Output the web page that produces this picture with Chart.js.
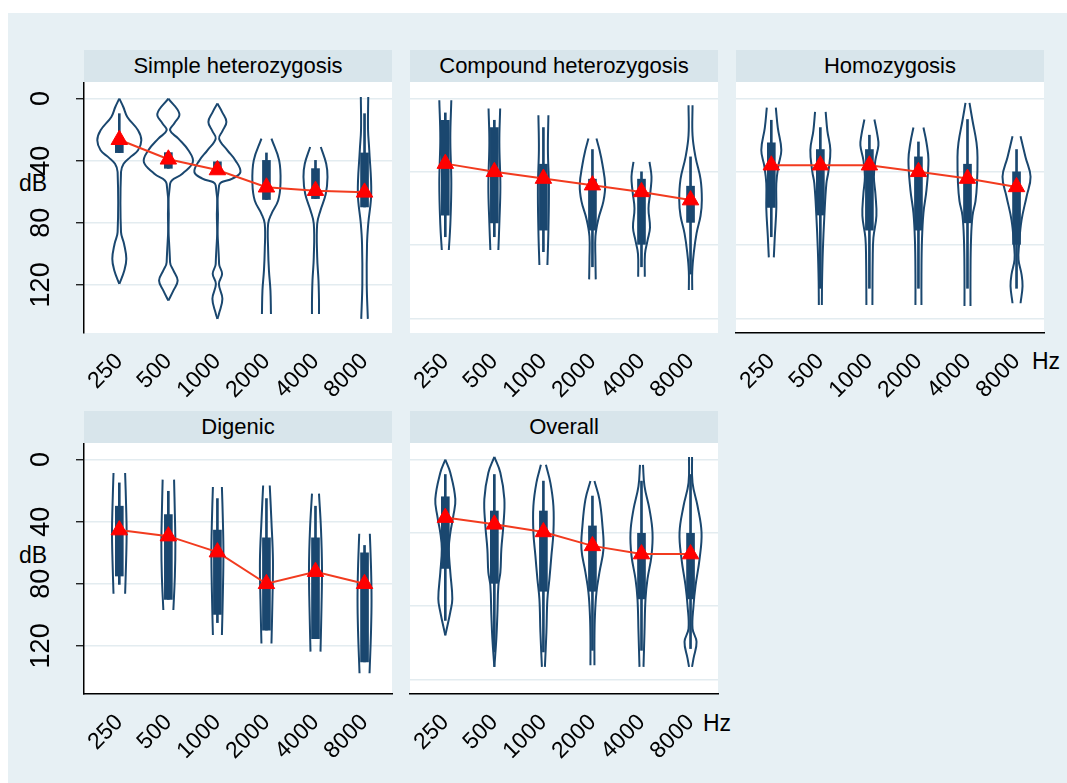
<!DOCTYPE html>
<html>
<head>
<meta charset="utf-8">
<script src="https://cdn.jsdelivr.net/npm/chart.js@4.4.1/dist/chart.umd.min.js"></script>
<style>
  body { margin: 0; width: 1067px; height: 783px; background: #fff; position: relative; overflow: hidden; font-family: "Liberation Sans", Arial, sans-serif; }
  #fondo { position: absolute; left: 8px; top: 13px; right: 0; bottom: 0; background: #e7f0f4; }
  .strip { position: absolute; height: 32px; line-height: 32px; background: #d8e5eb; text-align: center; font-size: 22px; color: #000; }
  .axis-title { position: absolute; font-size: 23px; color: #000; line-height: 23px; }
  canvas { position: absolute; }
</style>
</head>
<body>
<div id="fondo"></div>
<div class="axis-title" style="left:19px; top:172px;">dB</div>
<div class="axis-title" style="left:19px; top:544px;">dB</div>
<div class="axis-title" style="left:1032px; top:350px;">Hz</div>
<div class="axis-title" style="left:703px; top:712px;">Hz</div>

<script>
// Frecuencias (eje x)
const freqs = ['250', '500', '1000', '2000', '4000', '8000'];
const ticks40 = [0, 40, 80, 120];
const ticks50 = [0, 50, 100, 150];

// Simple heterozygosis (dB)
const simpleMean = [26.5, 39.1, 46, 57.1, 59.3, 60.4];
const simpleBox = [[28, 34.8], [34.8, 44.9], [40.7, 48], [39.8, 65], [45.1, 64.4], [35, 69.8]];
const simpleWhisker = [[9.7, 34.8], [34.8, 44.9], [40.7, 48], [35, 65], [39.8, 64.4], [9.7, 69.8]];
const simpleViolin = [
  [[0, 0], [5.4, 4], [11.8, 8], [20.4, 18.7], [26.9, 22], [33.3, 18.7], [37.7, 11], [42, 4.3], [47.3, 1.7], [86, 1.7], [93.5, 4.7], [103.2, 7], [110.7, 5], [119.4, 0]],
  [[0, 0], [9.7, 11], [15.9, 6], [20.4, 1.7], [25.8, 10], [33.3, 20], [40.9, 24.5], [48.4, 14], [54.9, 1.7], [105.4, 1.7], [110.7, 5], [117.2, 9.3], [123.7, 5], [130.1, 0]],
  [[3.2, 0], [9, 5], [15, 9], [21, 5], [25.8, 1.7], [33.3, 10], [39.8, 18], [47.3, 23], [51.6, 15], [55.9, 1.7], [106.5, 1.7], [112.9, 4.7], [119.4, 1.5], [129, 5], [138.7, 1.5], [141.9, 0]],
  [[25.8, 5], [39.8, 12.7], [54.9, 14], [65.6, 11.7], [74.2, 5], [80.6, 1.7], [97.8, 1.7], [110.7, 2.5], [123.7, 4], [138.7, 4.5]],
  [[31.2, 5.3], [42, 10.7], [50.5, 12], [61.3, 10.3], [72, 5], [80.6, 1.7], [102.1, 1.7], [117.2, 3], [130, 3.5], [138.7, 3.5]],
  [[-1, 3.7], [20, 3.5], [33, 4.7], [61, 6.7], [80.6, 3.7], [93.5, 2.5], [119.4, 2.2], [141.9, 3.3]]
];

// Compound heterozygosis (dB)
const compoundMean = [44.4, 50, 54.6, 59.1, 63.7, 69.3];
const compoundBox = [[14.8, 79.5], [19.8, 84.8], [44.8, 89.8], [55, 89.8], [55, 99.5], [59.8, 84.5]];
const compoundWhisker = [[9.8, 94.3], [14.8, 94.3], [19.8, 104.5], [34.8, 114.8], [50, 114.8], [39.8, 119.8]];
const compoundViolin = [
  [[1.2, 6], [27, 5], [58, 6], [86, 5], [103.4, 3.5]],
  [[6.8, 5.8], [30, 5], [60, 6], [85, 5], [103.4, 4]],
  [[11.4, 5], [35, 4.5], [60, 5.5], [90, 5], [113.6, 4]],
  [[27.3, 4], [35, 7], [45, 10], [59, 12.7], [70, 11], [82, 6], [94, 3], [110, 3], [123.4, 3.3]],
  [[43.2, 8], [53.4, 10], [63, 9], [75, 7], [88, 8.5], [97, 6], [106, 3.5], [121.6, 3.3]],
  [[4.6, 2], [25, 2], [40, 5], [55, 10], [69.3, 11.3], [80, 10], [92, 6], [105, 3.3], [118, 1.7], [130.7, 1.7]]
];

// Homozygosis (dB)
const homoMean = [45.5, 45.5, 45.5, 50, 54.6, 60.3];
const homoBox = [[30.2, 74.3], [34.8, 79.5], [34.8, 89.8], [39.8, 89.8], [44.8, 84.8], [50, 99.5]];
const homoWhisker = [[14.8, 94.3], [19.8, 129.5], [25, 129.5], [29.6, 129.5], [14.3, 129.5], [34.8, 129.5]];
const homoViolin = [
  [[6.2, 4.5], [20, 6.5], [35.2, 10], [46, 7], [58, 5], [75, 5], [94, 3.5], [108.4, 2.5]],
  [[9.1, 5.3], [22, 7], [35.2, 10], [50, 8], [58, 6], [80, 4], [103.4, 2.5], [125, 1.7], [140.9, 1.5]],
  [[14.3, 5], [25, 8], [32, 9], [42, 6], [53.4, 4.5], [65, 6], [80, 7], [95, 4], [110, 3.3], [140.9, 3]],
  [[19.8, 5], [30, 8], [42, 10], [62.5, 8], [78, 5], [97, 3.5], [120, 3], [140.9, 3]],
  [[3, 2], [15, 5], [30, 9], [40, 10], [58, 9.5], [70, 8], [80, 5], [97, 3.5], [120, 3], [141.5, 3]],
  [[25.7, 4], [40, 9], [53.4, 14], [67, 10], [83, 5], [100, 2.5], [110, 2], [120, 5], [128, 6], [139.7, 4]]
];

// Digenic (dB)
const digenicMean = [45.4, 49.3, 59.6, 80, 72.2, 80];
const digenicBox = [[30, 75], [35.4, 90], [45.4, 99.7], [50.4, 109.8], [50.4, 115.3], [60, 130.3]];
const digenicWhisker = [[15, 80.4], [20.4, 90], [25.1, 105], [25.1, 109.8], [30, 115.3], [55.3, 130.3]];
const digenicViolin = [
  [[8.6, 5.8], [30, 6.8], [47, 7.3], [65, 6.8], [86.4, 5.8]],
  [[12.9, 5.7], [35, 6.5], [55, 7], [75, 6.5], [96.9, 5]],
  [[17.6, 4.5], [40, 5.5], [60, 6], [85, 5.5], [113, 4.5]],
  [[16.7, 3.3], [40, 5], [65, 6.5], [90, 6], [118.5, 5]],
  [[21.9, 3.5], [45, 5.5], [70, 6.5], [95, 6], [123.7, 5]],
  [[47.8, 5.3], [70, 6.5], [90, 7], [110, 6.5], [137.6, 5]]
];

// Overall (dB)
const overallMean = [39.6, 44.2, 49.4, 58.9, 64.5, 64.5];
const overallBox = [[25.4, 74.3], [35.1, 84.5], [35.1, 89.9], [45.3, 89.9], [50.3, 95.1], [50.3, 95.1]];
const overallWhisker = [[10.2, 109.8], [10.2, 131.3], [14.7, 131.3], [24.9, 130.2], [14.7, 130.2], [10.2, 129]];
const overallViolin = [
  [[0, 0], [9, 5], [27, 10], [38.5, 8], [50, 5], [61, 3.5], [77, 5], [95, 7], [104, 5], [120, 0]],
  [[-1.8, 0], [9, 6], [27, 10], [45, 9], [61, 7], [77, 6], [86, 4], [106, 3], [122, 2], [141.5, 0]],
  [[3.6, 2.5], [15.9, 7], [31.7, 10], [49.8, 10], [65.6, 8], [81.5, 6], [95.1, 4], [117.7, 3], [141.5, 1.5]],
  [[14.7, 2], [27.2, 7], [45.3, 10], [61.1, 11], [77, 7], [90.6, 4], [106.4, 2.5], [122.3, 2], [140.4, 2]],
  [[3.6, 1.5], [18.1, 3], [34, 8], [49.8, 11], [65.6, 10], [81.5, 6], [95.1, 4], [117.7, 3], [141.5, 2]],
  [[-1.8, 1.5], [15.9, 2], [31.7, 7], [49.8, 11], [68, 9], [86, 5], [99.6, 3], [115.4, 2], [124.4, 6], [135.7, 3], [141.5, 1.5]]
];

const FONT = '"Liberation Sans", Arial, sans-serif';
const NAVY = '#1a476f';
const GRID = '#e3ecf0';
const DENS = 1 / 49;          // densidad -> ancho en unidades de categoria
const PLOT_W = 308, PLOT_H = 251, AXIS_W = 60, AXIS_H = 80, PAD_R = 12;

const panels = [
  { title: 'Simple heterozygosis', left: 84, top: 82, mean: simpleMean, box: simpleBox, whisker: simpleWhisker, violin: simpleViolin, yTicks: ticks40, yMin: -10.7, yMax: 151, yLabels: true, yLine: true, xLine: false },
  { title: 'Compound heterozygosis', left: 410, top: 82, mean: compoundMean, box: compoundBox, whisker: compoundWhisker, violin: compoundViolin, yTicks: ticks50, yMin: -11.3, yMax: 160, yLabels: false, yLine: false, xLine: false },
  { title: 'Homozygosis', left: 736, top: 82, mean: homoMean, box: homoBox, whisker: homoWhisker, violin: homoViolin, yTicks: ticks50, yMin: -11.3, yMax: 160, yLabels: false, yLine: false, xLine: true },
  { title: 'Digenic', left: 84, top: 443, mean: digenicMean, box: digenicBox, whisker: digenicWhisker, violin: digenicViolin, yTicks: ticks40, yMin: -10.7, yMax: 151, yLabels: true, yLine: true, xLine: true },
  { title: 'Overall', left: 410, top: 443, mean: overallMean, box: overallBox, whisker: overallWhisker, violin: overallViolin, yTicks: ticks50, yMin: -11.3, yMax: 160, yLabels: false, yLine: false, xLine: true }
];

// Fondo blanco del area de trazado
const plotBackground = {
  id: 'plotBackground',
  beforeDraw(chart) {
    const { ctx, chartArea: a } = chart;
    ctx.save();
    ctx.fillStyle = '#fff';
    ctx.fillRect(a.left, a.top, a.width, a.height);
    ctx.restore();
  }
};

function makePanel(p) {
  const strip = document.createElement('div');
  strip.className = 'strip';
  strip.textContent = p.title;
  strip.style.left = p.left + 'px';
  strip.style.top = (p.top - 32) + 'px';
  strip.style.width = PLOT_W + 'px';
  document.body.appendChild(strip);

  const canvas = document.createElement('canvas');
  canvas.width = AXIS_W + PLOT_W + PAD_R;
  canvas.height = PLOT_H + AXIS_H;
  canvas.style.left = (p.left - AXIS_W) + 'px';
  canvas.style.top = p.top + 'px';
  document.body.appendChild(canvas);

  const datasets = [];
  // Violines: un trazo a cada lado
  p.violin.forEach((shape, i) => {
    [-1, 1].forEach(side => {
      datasets.push({
        type: 'line',
        data: shape.map(([db, d]) => ({ x: i + side * d * DENS, y: db })),
        borderColor: NAVY,
        borderWidth: 2,
        pointRadius: 0,
        tension: 0.4,
        fill: false,
        order: 4
      });
    });
  });
  datasets.push({
    type: 'bar',
    data: p.whisker.map((w, i) => ({ x: i, y: w })),
    backgroundColor: NAVY,
    barThickness: 2,
    grouped: false,
    order: 3
  });
  datasets.push({
    type: 'bar',
    data: p.box.map((b, i) => ({ x: i, y: b })),
    backgroundColor: NAVY,
    barThickness: 8,
    grouped: false,
    order: 2
  });
  datasets.push({
    type: 'line',
    data: p.mean.map((m, i) => ({ x: i, y: m })),
    borderColor: '#f23b1f',
    borderWidth: 2,
    pointStyle: 'triangle',
    pointRadius: 9.5,
    pointBackgroundColor: '#ff0000',
    pointBorderColor: '#ff0000',
    pointBorderWidth: 1,
    tension: 0,
    order: 1
  });

  new Chart(canvas, {
    type: 'scatter',
    data: { datasets },
    plugins: [plotBackground],
    options: {
      responsive: false,
      animation: false,
      devicePixelRatio: 1,
      events: [],
      layout: { autoPadding: false, padding: { left: 0, right: PAD_R, top: 0, bottom: 0 } },
      plugins: { legend: { display: false }, tooltip: { enabled: false } },
      scales: {
        x: {
          type: 'linear',
          min: -0.72,
          max: 5.56,
          offset: false,
          afterBuildTicks: s => { s.ticks = freqs.map((f, i) => ({ value: i })); },
          afterFit: s => { s.height = AXIS_H; s.paddingLeft = 0; s.paddingRight = 0; },
          ticks: {
            callback: v => freqs[v],
            minRotation: 45,
            maxRotation: 45,
            autoSkip: false,
            padding: 7,
            color: '#000',
            font: { family: FONT, size: 23 }
          },
          grid: { display: false },
          border: { display: p.xLine, color: '#000', width: 1.5 }
        },
        y: {
          type: 'linear',
          reverse: true,
          min: p.yMin,
          max: p.yMax,
          afterBuildTicks: s => { s.ticks = p.yTicks.map(v => ({ value: v })); },
          afterFit: s => { s.width = AXIS_W; s.paddingTop = 0; s.paddingBottom = 0; },
          ticks: {
            display: p.yLabels,
            minRotation: 90,
            maxRotation: 90,
            crossAlign: 'center',
            padding: 12,
            color: '#000',
            font: { family: FONT, size: 27 }
          },
          grid: { color: GRID, lineWidth: 1.5, drawTicks: p.yLabels, tickLength: 8, tickColor: '#000', tickWidth: 1.2 },
          border: { display: p.yLine, color: '#000', width: 1.5 }
        }
      }
    }
  });
}

panels.forEach(makePanel);
</script>
</body>
</html>
